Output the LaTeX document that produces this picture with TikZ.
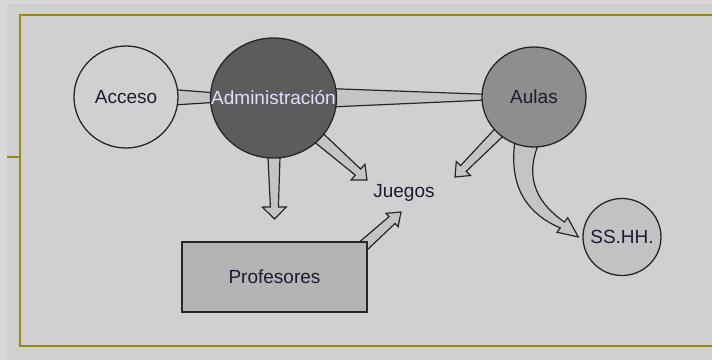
\documentclass[tikz,border=0pt]{standalone}
\usepackage{fontspec}
\setmainfont{Liberation Sans}
\usetikzlibrary{calc, backgrounds, shapes.geometric}
\usepackage{xcolor}
\definecolor{bggray}{RGB}{208,208,208}
\definecolor{edgegray}{RGB}{216,216,216}
\definecolor{frameolive}{RGB}{150,138,24}
\definecolor{admgray}{RGB}{92,92,92}
\definecolor{aulgray}{RGB}{142,142,142}
\definecolor{sshgray}{RGB}{194,194,194}
\definecolor{profgray}{RGB}{180,180,180}
\definecolor{arrgray}{RGB}{196,196,196}
\definecolor{ink}{RGB}{28,28,48}

% tapered block arrow: start, tip, start half width, end half width, head half width, head length
\newcommand\fatarr[6]{%
  \path ($(#2)!#6!(#1)$) coordinate (hb);
  \filldraw[fatline] ($(#1)!#3!90:(#2)$) -- ($(hb)!#4!90:(#2)$) -- ($(hb)!#5!90:(#2)$) -- ($(#2)$)
    -- ($(hb)!#5!-90:(#2)$) -- ($(hb)!#4!-90:(#2)$) -- ($(#1)!#3!-90:(#2)$) -- cycle;
}

\begin{document}
\begin{tikzpicture}[x=1pt, y=-1pt,
  place/.style={ellipse, draw=black!85, line width=1.3pt, inner sep=0pt,
                text=ink, font=\fontsize{19}{22}\selectfont},
  room/.style={rectangle, draw=black!85, line width=2pt, fill=profgray,
               text=ink, font=\fontsize{19}{22}\selectfont},
  fatline/.style={draw=black!85, line width=1.2pt, fill=arrgray},
]
\useasboundingbox (0,0) rectangle (712,360);

\node[place, fill=bggray, minimum width=104pt, minimum height=102pt] (acc) at (126,97) {\makebox[0pt]{Acceso}};
\node[place, fill=admgray, text=white!88!blue, minimum width=126pt, minimum height=120pt] (adm) at (273.5,98) {\makebox[0pt]{Administración}};
\node[place, fill=aulgray, minimum width=104pt, minimum height=100pt] (aul) at (534,97) {\makebox[0pt]{Aulas}};
\node[place, fill=sshgray, minimum width=78pt, minimum height=77pt] (ssh) at (622,237) {\makebox[0pt]{SS.HH.}};
\node[room, minimum width=185pt, minimum height=70pt] (prof) at (274.5,277) {Profesores};
\node[text=ink, font=\fontsize{19}{22}\selectfont] (jue) at (404,193) {Juegos};

\coordinate (tprof) at ($(prof.north)+(0,-22)$);
\coordinate (tjuea) at ($(jue)+(-37,-13)$);
\coordinate (tjueb) at ($(jue)+(51,-16)$);
\coordinate (tjuec) at ($(jue)+(-3,19)$);
\coordinate (sprof) at ($(prof.north east)+(-17,16)$);
\coordinate (tssh) at ($(ssh.west)+(-4,0)$);

\begin{pgfonlayer}{background}
  \fill[edgegray] (0,0) rectangle (712,360);
  \fill[bggray] (7,4) rectangle (712,360);
  \draw[frameolive, line width=2.5pt] (712,15) -- (20,15) -- (20,346) -- (712,346);
  \draw[frameolive, line width=2pt] (7,157) -- (20,157);
  % arrows, under the places
  \fatarr{acc}{adm}{11pt}{1.5pt}{5pt}{12pt}
  \fatarr{adm}{aul}{11.5pt}{1.5pt}{5pt}{14pt}
  \fatarr{adm}{tprof}{8.4pt}{4pt}{12pt}{12pt}
  \fatarr{adm}{tjuea}{8.5pt}{4pt}{10.5pt}{12pt}
  \fatarr{aul}{tjueb}{7pt}{4pt}{10pt}{12pt}
  \fatarr{sprof}{tjuec}{6pt}{4.5pt}{9pt}{12pt}
  \filldraw[fatline] ($(aul.south)+(-19,-7)$) .. controls (508,190) and (530,215) .. ($(tssh)+(-18,-9)$)
    -- ($(tssh)+(-21.4,-4.8)$) -- (tssh) -- ($(tssh)+(-10.6,-19.2)$) -- ($(tssh)+(-14,-15)$)
    .. controls (540,205) and (522,180) .. ($(aul.south)+(6,-7)$) -- cycle;
\end{pgfonlayer}
\end{tikzpicture}
\end{document}
